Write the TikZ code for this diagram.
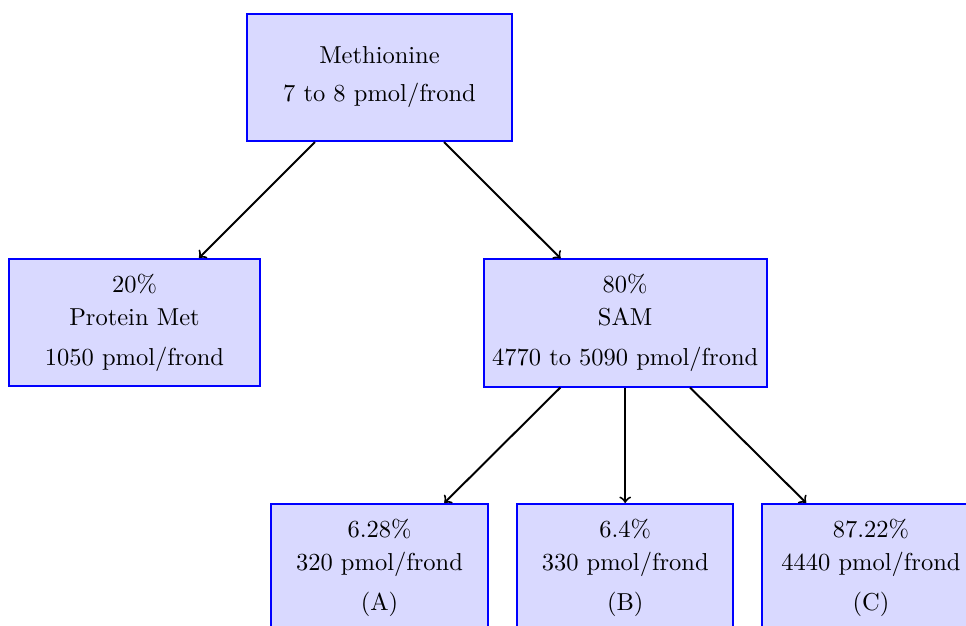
\documentclass[tikz,border=0pt]{standalone}
\begin{document}
\begin{tikzpicture}[x=0.408163pt,y=-0.408163pt,
  box/.style={draw=blue,fill=blue!15,line width=0.7pt,minimum height=52pt,align=center,inner sep=0pt},
  arr/.style={->,line width=0.8pt}]
\clip (0,0) rectangle (966,626);
\node[box,minimum width=108.2pt] (meth) at (379.5,77.5) {Methionine\\[3.5pt]7 to 8 pmol/frond};
\node[box,minimum width=102.4pt] (prot) at (134.5,322.5) {20\%\\[1.5pt]Protein Met\\[4.3pt]1050 pmol/frond};
\node[box,minimum width=115.5pt] (sam) at (625.2,323) {80\%\\[1.5pt]SAM\\[4.3pt]4770 to 5090 pmol/frond};
\node[box,minimum width=88.6pt] (a) at (379.5,567.5) {6.28\%\\[1.5pt]320 pmol/frond\\[4.3pt](A)};
\node[box,minimum width=88.2pt] (b) at (625.2,567.5) {6.4\%\\[1.5pt]330 pmol/frond\\[4.3pt](B)};
\node[box,minimum width=89pt] (c) at (871,567.5) {87.22\%\\[1.5pt]4440 pmol/frond\\[4.3pt](C)};
\draw[arr] (meth) -- (prot);
\draw[arr] (meth) -- (sam);
\draw[arr] (sam) -- (a);
\draw[arr] (sam) -- (b);
\draw[arr] (sam) -- (c);
\end{tikzpicture}
\end{document}
